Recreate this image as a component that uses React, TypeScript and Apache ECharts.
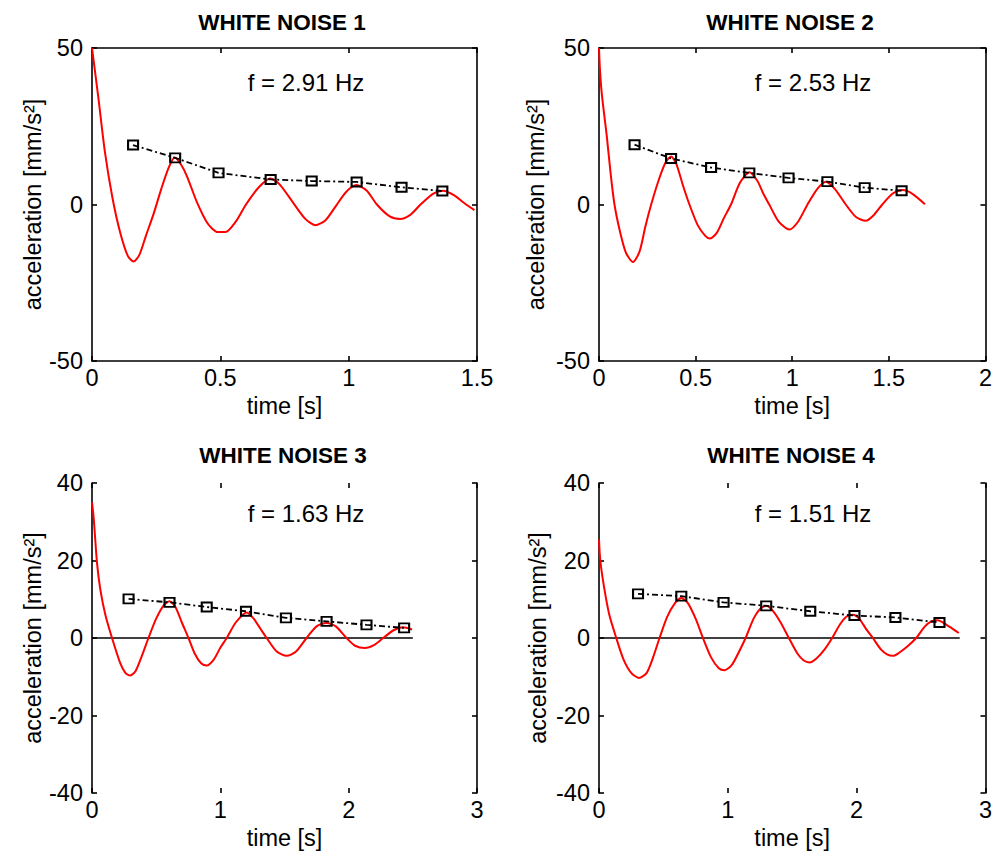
import React, { useEffect, useRef } from "react";
import * as echarts from "echarts";

type P = [number, number];

// Panel 1 – WHITE NOISE 1
const curve1: P[] = [
  [0, 50], [0.025, 34], [0.05, 17], [0.08, 2], [0.11, -9], [0.14, -16.5], [0.162, -18.2],
  [0.185, -16], [0.21, -10], [0.24, -3], [0.27, 5], [0.3, 12], [0.322, 15], [0.345, 13],
  [0.37, 9], [0.41, 0.5], [0.45, -6], [0.49, -8.8], [0.52, -8.8], [0.56, -5.5], [0.6, 0],
  [0.65, 5.5], [0.695, 8.3], [0.73, 6.5], [0.78, 1], [0.83, -4.5], [0.87, -6.6], [0.91, -5],
  [0.95, -0.5], [0.99, 4], [1.03, 6.2], [1.07, 4.5], [1.11, 0], [1.16, -3.8], [1.2, -4.6],
  [1.24, -3.3], [1.28, 0], [1.33, 3.5], [1.368, 4.4], [1.41, 3], [1.45, 0.5], [1.49, -1.8],
];
const markers1: P[] = [
  [0.16, 19.0], [0.324, 14.9], [0.493, 10.1], [0.696, 8.0], [0.856, 7.5], [1.031, 7.2], [1.206, 5.5], [1.365, 4.3],
];

// Panel 2 – WHITE NOISE 2
const curve2: P[] = [
  [0, 50], [0.005, 43], [0.015, 35], [0.04, 22], [0.06, 10], [0.08, 0], [0.11, -9], [0.14, -15.5],
  [0.176, -18.4], [0.21, -15], [0.24, -7], [0.27, 0], [0.31, 8], [0.345, 13.5], [0.373, 15.3],
  [0.4, 13], [0.435, 6], [0.468, 0], [0.51, -6.5], [0.55, -10], [0.575, -10.9], [0.61, -9],
  [0.645, -4.5], [0.683, 0], [0.73, 7], [0.778, 10.3], [0.82, 7.5], [0.85, 3.5], [0.881, 0],
  [0.93, -5.5], [0.985, -8.0], [1.03, -5.5], [1.079, 0], [1.13, 5], [1.174, 7.3], [1.22, 5],
  [1.277, 0], [1.33, -4], [1.38, -5.2], [1.42, -3.5], [1.466, 0], [1.52, 3.5], [1.57, 4.6],
  [1.62, 3.5], [1.687, 0.1],
];
const markers2: P[] = [
  [0.184, 19.1], [0.373, 14.7], [0.58, 11.8], [0.778, 10.1], [0.981, 8.5], [1.182, 7.3], [1.375, 5.4], [1.566, 4.4],
];

// Panel 3 – WHITE NOISE 3
const curve3: P[] = [
  [0, 35], [0.013, 31], [0.039, 19.4], [0.065, 12.5], [0.104, 6], [0.156, 0], [0.22, -6.5],
  [0.26, -9], [0.298, -9.7], [0.34, -8.5], [0.39, -4.5], [0.44, 0], [0.5, 5], [0.56, 8.5],
  [0.604, 9.5], [0.65, 8], [0.7, 4], [0.752, 0], [0.8, -4], [0.85, -6.5], [0.894, -7.1],
  [0.95, -5.5], [1.0, -2.5], [1.05, 0], [1.12, 4], [1.206, 6.6], [1.26, 5], [1.31, 2.5],
  [1.361, 0], [1.44, -3.5], [1.517, -4.6], [1.59, -3.5], [1.672, 0], [1.75, 3], [1.828, 3.9],
  [1.9, 3], [1.983, 0], [2.05, -2], [2.126, -2.6], [2.2, -1.8], [2.269, 0], [2.35, 2],
  [2.424, 2.8], [2.494, 2.2],
];
const markers3: P[] = [
  [0.285, 10.1], [0.604, 9.2], [0.894, 8.0], [1.2, 6.9], [1.511, 5.2], [1.828, 4.3], [2.139, 3.4], [2.432, 2.6],
];
const zero3: P[] = [[0, 0], [2.5, 0]];

// Panel 4 – WHITE NOISE 4
const curve4: P[] = [
  [0, 25.4], [0.01, 20], [0.04, 13], [0.08, 6], [0.134, 0], [0.19, -5.5], [0.25, -9], [0.31, -10.3],
  [0.37, -9], [0.42, -5], [0.47, 0], [0.53, 5.5], [0.59, 9], [0.639, 10.3], [0.69, 9], [0.75, 5],
  [0.807, 0], [0.87, -5], [0.93, -7.8], [0.975, -8.3], [1.03, -7], [1.08, -4], [1.138, 0],
  [1.2, 5], [1.25, 7.5], [1.298, 8.3], [1.35, 7], [1.41, 4], [1.474, 0], [1.54, -4], [1.59, -5.8],
  [1.634, -6.3], [1.69, -5.2], [1.75, -3], [1.81, 0], [1.87, 3.5], [1.92, 5.5], [1.971, 6.0],
  [2.02, 5], [2.07, 2.5], [2.126, 0], [2.19, -3], [2.24, -4.3], [2.281, -4.6], [2.33, -3.8],
  [2.4, -2], [2.462, 0], [2.53, 3], [2.58, 4.3], [2.63, 4.6], [2.68, 3.8], [2.74, 2.5], [2.793, 1.3],
];
const markers4: P[] = [
  [0.303, 11.4], [0.639, 10.8], [0.967, 9.2], [1.298, 8.3], [1.64, 6.9], [1.983, 5.8], [2.301, 5.3], [2.643, 4.0],
];
const zero4: P[] = [[0, 0], [2.8, 0]];

const titles = ["WHITE NOISE 1", "WHITE NOISE 2", "WHITE NOISE 3", "WHITE NOISE 4"];
const freqLabels = ["f = 2.91 Hz", "f = 2.53 Hz", "f = 1.63 Hz", "f = 1.51 Hz"];
const xMaxes = [1.5, 2, 3, 3];
const xIntervals = [0.5, 0.5, 1, 1];
const yMaxes = [50, 50, 40, 40];
const yIntervals = [50, 50, 20, 20];
const curves = [curve1, curve2, curve3, curve4];
const markerSets = [markers1, markers2, markers3, markers4];
const zeroLines: (P[] | null)[] = [null, null, zero3, zero4];

const FONT = "'Liberation Sans', Arial, Helvetica, sans-serif";

const grids = [
  { left: 92, top: 48, width: 385, height: 313 },
  { left: 599, top: 48, width: 388, height: 313 },
  { left: 92, top: 483, width: 385, height: 310 },
  { left: 599, top: 483, width: 387, height: 310 },
];
const titlePos = [[282, 22], [790, 22], [283, 455], [791, 455]];
const freqPos = [[306, 82], [813, 82], [306, 513], [813, 513]];
const yNameGaps = [44, 51, 46, 49];

export default function App() {
  const ref = useRef<HTMLDivElement>(null);
  useEffect(() => {
    document.body.style.margin = "0";
    if (!ref.current) return;
    const chart = echarts.init(ref.current, undefined, { renderer: "svg" });

    const xAxis: any[] = [];
    const yAxis: any[] = [];
    const series: any[] = [];
    const lineStyle = { color: "#000", width: 1.6 };
    const tick = { inside: true, length: 5, lineStyle };
    const labelStyle = { color: "#000", fontSize: 23.5, fontFamily: FONT };

    for (let i = 0; i < 4; i++) {
      const boxed = i < 2;
      xAxis.push({
        gridIndex: i, type: "value", min: 0, max: xMaxes[i], interval: xIntervals[i], position: "bottom",
        axisLine: { show: boxed, onZero: false, lineStyle },
        axisTick: tick,
        axisLabel: { ...labelStyle, margin: 5 },
        splitLine: { show: false },
        name: "time [s]", nameLocation: "middle", nameGap: 33,
        nameTextStyle: { ...labelStyle },
      });
      xAxis.push({
        gridIndex: i, type: "value", min: 0, max: xMaxes[i], interval: xIntervals[i], position: "top",
        axisLine: { show: boxed, onZero: false, lineStyle },
        axisTick: tick,
        axisLabel: { show: false },
        splitLine: { show: false },
      });
      yAxis.push({
        gridIndex: i, type: "value", min: -yMaxes[i], max: yMaxes[i], interval: yIntervals[i], position: "left",
        axisLine: { show: true, onZero: false, lineStyle },
        axisTick: tick,
        axisLabel: { ...labelStyle, margin: 9 },
        splitLine: { show: false },
        name: "acceleration [mm/s²]", nameLocation: "middle", nameGap: yNameGaps[i],
        nameTextStyle: { ...labelStyle },
      });
      yAxis.push({
        gridIndex: i, type: "value", min: -yMaxes[i], max: yMaxes[i], interval: yIntervals[i], position: "right",
        axisLine: { show: true, onZero: false, lineStyle },
        axisTick: tick,
        axisLabel: { show: false },
        splitLine: { show: false },
      });

      const z = zeroLines[i];
      if (z) {
        series.push({
          type: "line", xAxisIndex: 2 * i, yAxisIndex: 2 * i, data: z,
          symbol: "none", lineStyle: { color: "#000", width: 1.5 }, silent: true, z: 1,
        });
      }
      series.push({
        type: "line", xAxisIndex: 2 * i, yAxisIndex: 2 * i, data: curves[i],
        symbol: "none", smooth: 0.25, lineStyle: { color: "#ff0000", width: 2 }, z: 2,
      });
      series.push({
        type: "line", xAxisIndex: 2 * i, yAxisIndex: 2 * i, data: markerSets[i],
        symbol: "rect", symbolSize: [10, 9],
        itemStyle: { color: "rgba(255,255,255,0)", borderColor: "#000", borderWidth: 2 },
        lineStyle: { color: "#000", width: 1.8, type: [6, 3, 2, 3] }, z: 3,
      });
    }

    const graphic: any[] = [];
    for (let i = 0; i < 4; i++) {
      graphic.push({
        type: "text", x: titlePos[i][0], y: titlePos[i][1],
        style: { text: titles[i], fontSize: 22.5, fontWeight: "bold", fontFamily: FONT, fill: "#000", align: "center", verticalAlign: "middle" },
      });
      graphic.push({
        type: "text", x: freqPos[i][0], y: freqPos[i][1],
        style: { text: freqLabels[i], fontSize: 24, fontFamily: FONT, fill: "#000", align: "center", verticalAlign: "middle" },
      });
    }

    chart.setOption({
      animation: false,
      backgroundColor: "#fff",
      grid: grids.map((g) => ({ ...g, containLabel: false })),
      xAxis,
      yAxis,
      series,
      graphic,
    });
    return () => chart.dispose();
  }, []);
  return <div ref={ref} style={{ width: 995, height: 857 }} />;
}
